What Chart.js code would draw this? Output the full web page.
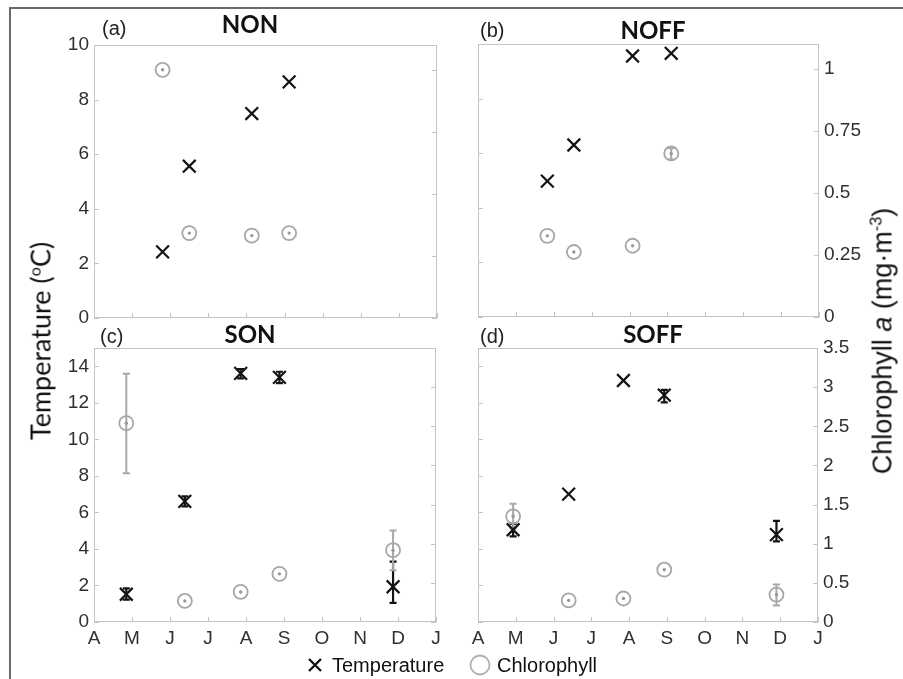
<!DOCTYPE html>
<html>
<head>
<meta charset="UTF-8">
<title>Temperature and chlorophyll a</title>
<script src="https://cdn.jsdelivr.net/npm/chart.js@4.4.1/dist/chart.umd.min.js"></script>
<style>
  body{margin:0;width:903px;height:679px;overflow:hidden;background:#fff;position:relative;
       font-family:"Liberation Sans",Arial,sans-serif;color:#111;}
  .frame{position:absolute;left:9px;top:7px;width:1000px;height:1000px;border:2px solid #6a6a6a;}
  canvas{position:absolute;}
  .tag{position:absolute;font-size:20px;color:#222;line-height:1;transform:translateY(-50%);white-space:nowrap;}
  .name{position:absolute;font-family:Lato,sans-serif;font-weight:bold;font-size:24px;color:#111;
        line-height:1;transform:translate(-50%,-50%);white-space:nowrap;}
  .ytitle{position:absolute;line-height:1;white-space:nowrap;transform:translate(-50%,-50%) rotate(-90deg);}
  .ytitle sup{font-size:60%;}
  .key{position:absolute;font-size:20px;line-height:1;transform:translateY(-50%);white-space:nowrap;color:#111;}
  svg{position:absolute;}
</style>
</head>
<body>
<div class="frame"></div>

<canvas id="non" width="420" height="320" style="left:40px;top:15px"></canvas>
<canvas id="noff" width="420" height="320" style="left:460px;top:15px"></canvas>
<canvas id="son" width="420" height="330" style="left:40px;top:325px"></canvas>
<canvas id="soff" width="420" height="330" style="left:460px;top:325px"></canvas>

<div class="tag" style="left:102px;top:28px">(a)</div>
<div class="name" style="left:250px;top:24px">NON</div>
<div class="tag" style="left:480px;top:30px">(b)</div>
<div class="name" style="left:653px;top:30px">NOFF</div>
<div class="tag" style="left:100px;top:336px">(c)</div>
<div class="name" style="left:250px;top:334px">SON</div>
<div class="tag" style="left:480px;top:336px">(d)</div>
<div class="name" style="left:653px;top:334px">SOFF</div>

<div class="ytitle" style="left:40px;top:341px;font-family:Lato,sans-serif;font-size:27px">Temperature (<sup>o</sup>C)</div>
<div class="ytitle" style="left:882px;top:341px;font-size:27px">Chlorophyll <i>a</i> (mg·m<sup>-3</sup>)</div>

<svg width="16" height="16" style="left:307px;top:657px">
  <path d="M2 2 L14 14 M14 2 L2 14" stroke="#111" stroke-width="2.4"/>
</svg>
<div class="key" style="left:332px;top:665px">Temperature</div>
<svg width="22" height="22" style="left:469px;top:654px">
  <circle cx="11" cy="11" r="9.5" fill="none" stroke="#b0b0b0" stroke-width="1.8"/>
</svg>
<div class="key" style="left:497px;top:665px">Chlorophyll</div>

<script>
// month axis: 4 = 1 April ... 13 = 1 January
const monthTicks=[4,5,6,7,8,9,10,11,12,13];
const monthLetters=['A','M','J','J','A','S','O','N','D','J'];
const tempTicksNorth=[0,2,4,6,8,10];
const chlTicksNorth=[0,0.25,0.5,0.75,1];
const tempTicksSouth=[0,2,4,6,8,10,12,14];
const chlTicksSouth=[0,0.5,1,1.5,2,2.5,3,3.5];

// (a) NON
const nonMonth=[5.80,6.50,8.14,9.12];
const nonTemp=[2.42,5.56,7.49,8.65];
const nonChl=[1.00,0.342,0.332,0.342];

// (b) NOFF
const noffMonth=[5.83,6.53,8.08,9.10];
const noffTemp=[4.98,6.30,9.56,9.66];
const noffChl=[0.327,0.262,0.287,0.659];
const noffChlErr=[null,null,null,[0.635,0.68]];

// (c) SON
const sonMonth=[4.85,6.39,7.86,8.88,11.87];
const sonTemp=[1.52,6.60,13.61,13.39,1.93];
const sonTempErr=[[1.23,1.84],[6.33,6.88],[13.34,13.85],[13.08,13.70],[1.05,3.30]];
const sonChl=[2.54,0.269,0.384,0.615,0.918];
const sonChlErr=[[1.90,3.17],null,null,null,[0.66,1.17]];

// (d) SOFF
const soffMonth=[4.93,6.40,7.85,8.93,11.90];
const soffTemp=[5.05,7.00,13.22,12.42,4.78];
const soffTempErr=[[4.69,5.38],null,null,[12.02,12.71],[4.41,5.54]];
const soffChl=[1.35,0.276,0.300,0.668,0.349];
const soffChlErr=[[1.19,1.51],null,null,null,[0.21,0.48]];

const tickFont={family:'"Liberation Sans", Arial, sans-serif',size:19};
const tickColor='#303030';
const chlGrey='#a8a8a8';

// box outline plus short inward tick marks, MATLAB style
const axisFrame={
  id:'axisFrame',
  beforeDatasetsDraw(chart){
    const {ctx,chartArea:a,scales}=chart;
    ctx.save();
    ctx.strokeStyle='#c4c4c4';
    ctx.lineWidth=1;
    ctx.strokeRect(a.left+0.5,a.top+0.5,a.right-a.left-1,a.bottom-a.top-1);
    ctx.beginPath();
    monthTicks.forEach(v=>{
      const x=Math.round(scales.x.getPixelForValue(v))+0.5;
      ctx.moveTo(x,a.bottom);ctx.lineTo(x,a.bottom-5);
    });
    scales.y.ticks.forEach(t=>{
      const y=Math.round(scales.y.getPixelForValue(t.value))+0.5;
      ctx.moveTo(a.left,y);ctx.lineTo(a.left+5,y);
    });
    scales.y1.ticks.forEach(t=>{
      const y=Math.round(scales.y1.getPixelForValue(t.value))+0.5;
      ctx.moveTo(a.right,y);ctx.lineTo(a.right-5,y);
    });
    ctx.stroke();
    ctx.restore();
  }
};

// vertical error bars with caps, and the small dot inside each chlorophyll ring
const errorBars={
  id:'errorBars',
  beforeDatasetsDraw(chart){
    const {ctx,scales}=chart;
    chart.data.datasets.forEach(ds=>{
      if(!ds.errorBars) return;
      const ys=scales[ds.yAxisID];
      ctx.save();
      ctx.strokeStyle=ds.borderColor;
      ctx.lineWidth=ds.errorWidth;
      ds.errorBars.forEach((e,i)=>{
        if(!e) return;
        const x=scales.x.getPixelForValue(ds.data[i].x);
        const lo=ys.getPixelForValue(e[0]), hi=ys.getPixelForValue(e[1]);
        ctx.beginPath();
        ctx.moveTo(x,lo);ctx.lineTo(x,hi);
        ctx.moveTo(x-3.5,lo);ctx.lineTo(x+3.5,lo);
        ctx.moveTo(x-3.5,hi);ctx.lineTo(x+3.5,hi);
        ctx.stroke();
      });
      ctx.restore();
    });
  },
  afterDatasetsDraw(chart){
    const {ctx,scales}=chart;
    chart.data.datasets.forEach(ds=>{
      if(!ds.centerDot) return;
      const ys=scales[ds.yAxisID];
      ctx.save();
      ctx.fillStyle='#999';
      ds.data.forEach(p=>{
        ctx.beginPath();
        ctx.arc(scales.x.getPixelForValue(p.x),ys.getPixelForValue(p.y),1.7,0,Math.PI*2);
        ctx.fill();
      });
      ctx.restore();
    });
  }
};

function points(months,values){
  return months.map((m,i)=>({x:m,y:values[i]}));
}

function tempSet(months,values,err){
  return {label:'Temperature',data:points(months,values),yAxisID:'y',
    pointStyle:'crossRot',pointRadius:9,pointBorderWidth:2.2,borderColor:'#141414',
    backgroundColor:'#141414',errorBars:err,errorWidth:2.2,clip:false};
}

function chlSet(months,values,err){
  return {label:'Chlorophyll',data:points(months,values),yAxisID:'y1',
    pointStyle:'circle',pointRadius:7,pointBorderWidth:1.8,borderColor:chlGrey,
    backgroundColor:'rgba(0,0,0,0)',errorBars:err,errorWidth:2,centerDot:true,clip:false};
}

function panel(id,box,area,datasets,cfg){
  const fixed=list=>s=>{s.ticks=list.map(v=>({value:v}));};
  new Chart(document.getElementById(id),{
    type:'scatter',
    data:{datasets},
    options:{
      responsive:false,animation:false,devicePixelRatio:1,
      layout:{autoPadding:false,padding:{top:area.t-box.y,left:0,right:0,bottom:0}},
      plugins:{legend:{display:false},tooltip:{enabled:false}},
      scales:{
        x:{type:'linear',min:4,max:13,
          grid:{display:false,drawTicks:false},border:{display:false},
          afterBuildTicks:fixed(monthTicks),
          afterFit:s=>{s.height=box.y+box.h-area.b;},
          ticks:{display:cfg.showX,padding:5,color:tickColor,font:tickFont,autoSkip:false,maxRotation:0,
            callback:v=>monthLetters[monthTicks.indexOf(v)]}},
        y:{type:'linear',position:'left',min:0,max:cfg.tMax,
          grid:{display:false,drawTicks:false},border:{display:false},
          afterBuildTicks:fixed(cfg.tTicks),
          afterFit:s=>{s.width=area.l-box.x;},
          ticks:{display:cfg.showLeft,padding:5,color:tickColor,font:tickFont,callback:v=>String(v)}},
        y1:{type:'linear',position:'right',min:0,max:cfg.cMax,
          grid:{display:false,drawTicks:false},border:{display:false},
          afterBuildTicks:fixed(cfg.cTicks),
          afterFit:s=>{s.width=box.x+box.w-area.r;},
          ticks:{display:cfg.showRight,padding:5,color:tickColor,font:tickFont,callback:v=>String(v)}}
      }
    },
    plugins:[axisFrame,errorBars]
  });
}

const north={tMax:10,cMax:1.1,tTicks:tempTicksNorth,cTicks:chlTicksNorth};
const south={tMax:15,cMax:3.5,tTicks:tempTicksSouth,cTicks:chlTicksSouth};

panel('non',{x:40,y:15,w:420,h:320},{l:94,t:45,r:437,b:318},
  [tempSet(nonMonth,nonTemp,null),chlSet(nonMonth,nonChl,null)],
  {...north,showX:false,showLeft:true,showRight:false});

panel('noff',{x:460,y:15,w:420,h:320},{l:478,t:44,r:819,b:317},
  [tempSet(noffMonth,noffTemp,null),chlSet(noffMonth,noffChl,noffChlErr)],
  {...north,showX:false,showLeft:false,showRight:true});

panel('son',{x:40,y:325,w:420,h:330},{l:94,t:348,r:436,b:622},
  [tempSet(sonMonth,sonTemp,sonTempErr),chlSet(sonMonth,sonChl,sonChlErr)],
  {...south,showX:true,showLeft:true,showRight:false});

panel('soff',{x:460,y:325,w:420,h:330},{l:478,t:348,r:818,b:622},
  [tempSet(soffMonth,soffTemp,soffTempErr),chlSet(soffMonth,soffChl,soffChlErr)],
  {...south,showX:true,showLeft:false,showRight:true});
</script>
</body>
</html>
